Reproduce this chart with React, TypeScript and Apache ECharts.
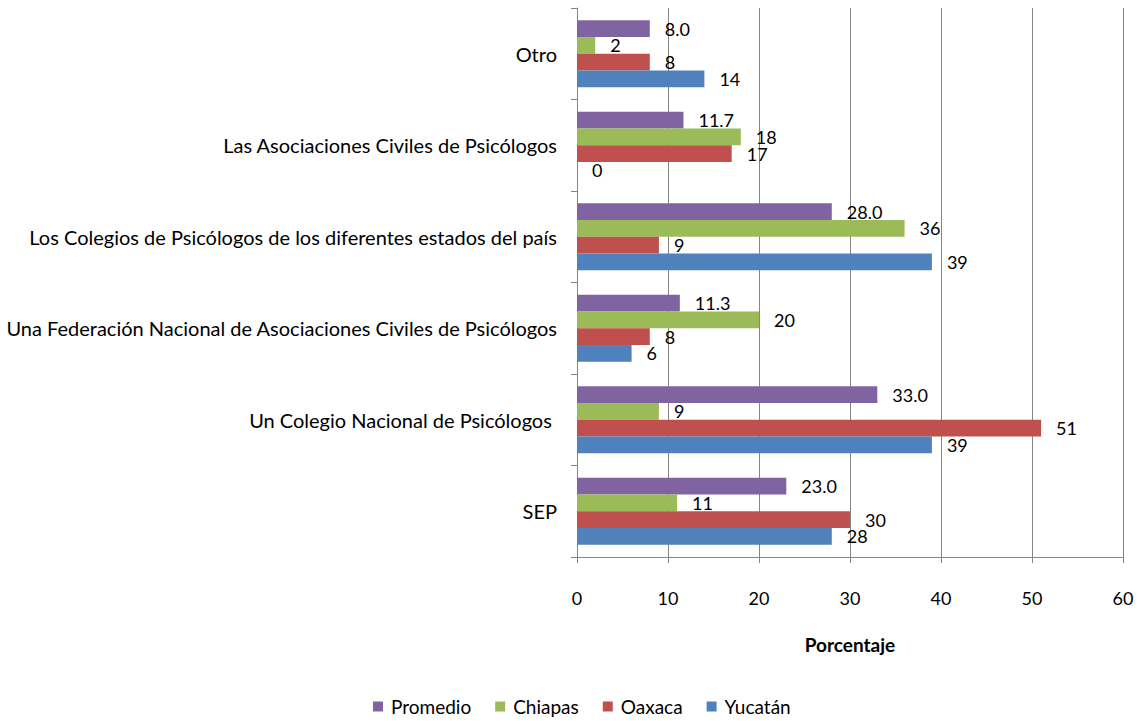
import React, { useEffect, useRef } from "react";
import * as echarts from "echarts";

const categories = [
  "SEP",
  "Un Colegio Nacional de Psicólogos ",
  "Una Federación Nacional de Asociaciones Civiles de Psicólogos",
  "Los Colegios de Psicólogos de los diferentes estados del país",
  "Las Asociaciones Civiles de Psicólogos",
  "Otro",
];
const promedio = [23.0, 33.0, 11.3, 28.0, 11.7, 8.0];
const chiapas = [11, 9, 20, 36, 18, 2];
const oaxaca = [30, 51, 8, 9, 17, 8];
const yucatan = [28, 39, 6, 39, 0, 14];
const xTicks = [0, 10, 20, 30, 40, 50, 60];

const FONT = "Lato, 'Open Sans', sans-serif";

export default function App() {
  const ref = useRef<HTMLDivElement>(null);
  useEffect(() => {
    if (!ref.current) return;
    const chart = echarts.init(ref.current, null, { renderer: "svg" });
    const mk = (name: string, data: number[], color: string, dec: number) => ({
      name,
      type: "bar",
      data,
      barGap: "0%",
      barCategoryGap: "27%",
      itemStyle: { color },
      label: {
        show: true,
        position: "right",
        distance: 15,
        color: "#000",
        fontSize: 18,
        fontFamily: FONT,
        formatter: (p: any) => Number(p.value).toFixed(dec),
      },
    });
    chart.setOption({
      animation: false,
      textStyle: { fontFamily: FONT },
      grid: { left: 577, right: 15, top: 8, bottom: 164, containLabel: false },
      legend: {
        bottom: 0,
        left: 368,
        data: ["Promedio", "Chiapas", "Oaxaca", "Yucatán"],
        icon: "rect",
        itemWidth: 10,
        itemHeight: 10,
        itemGap: 24,
        textStyle: { fontSize: 19, color: "#000", fontFamily: FONT, padding: [0, 0, 0, 3] },
      },
      xAxis: {
        type: "value",
        min: xTicks[0],
        max: xTicks[xTicks.length - 1],
        interval: 10,
        name: "Porcentaje",
        nameLocation: "middle",
        nameGap: 78,
        nameTextStyle: { fontSize: 19, fontWeight: "bold", color: "#000", fontFamily: FONT },
        axisLine: { show: true, lineStyle: { color: "#868686" } },
        axisTick: { show: true, length: 6, lineStyle: { color: "#868686" } },
        axisLabel: { fontSize: 18, color: "#000", margin: 32, fontFamily: FONT },
        splitLine: { show: true, lineStyle: { color: "#868686" } },
      },
      yAxis: {
        type: "category",
        data: categories,
        axisLine: { show: true, lineStyle: { color: "#868686" } },
        axisTick: { show: true, length: 6, lineStyle: { color: "#868686" } },
        axisLabel: { fontSize: 20, color: "#000", margin: 20, fontFamily: FONT },
      },
      series: [
        mk("Promedio", promedio, "#8064A2", 1),
        mk("Chiapas", chiapas, "#9BBB59", 0),
        mk("Oaxaca", oaxaca, "#C0504D", 0),
        mk("Yucatán", yucatan, "#4F81BD", 0),
      ],
    });
    return () => chart.dispose();
  }, []);
  return <div ref={ref} style={{ width: 1138, height: 721, position: "absolute", left: 0, top: 0 }} />;
}
